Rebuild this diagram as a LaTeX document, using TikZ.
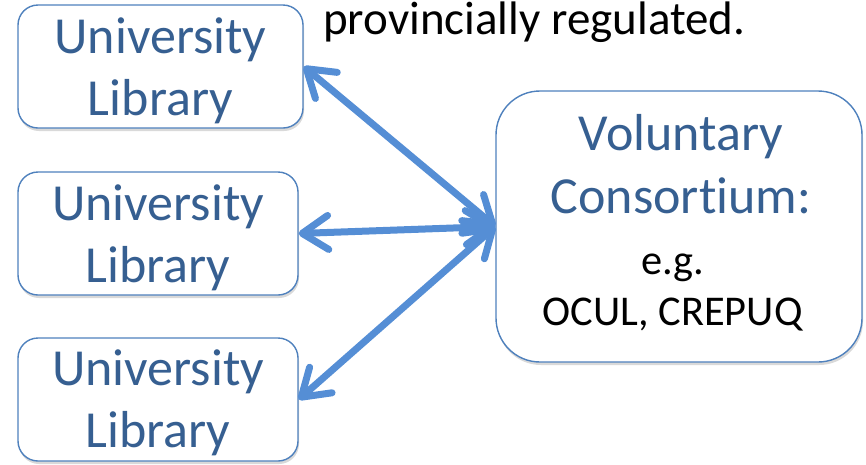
\documentclass[tikz,border=0pt]{standalone}
\usepackage{fontspec}
\setmainfont{Carlito}[Ligatures=NoCommon]
\usetikzlibrary{arrows.meta,shadows}
\definecolor{boxline}{RGB}{79,129,189}
\definecolor{boxtext}{RGB}{54,95,145}
\definecolor{linkblue}{RGB}{85,142,213}
\tikzset{
  every picture/.style={x=1pt,y=-1pt},
  libbox/.style={draw=boxline, line width=1.4pt, fill=white, rounded corners=20pt,
    minimum width=#1, minimum height=123pt, inner sep=0pt,
    drop shadow={shadow xshift=1pt, shadow yshift=-3pt, opacity=0.25, fill=black!60}},
  consbox/.style={draw=boxline, line width=1.4pt, fill=white, rounded corners=44pt,
    minimum width=366pt, minimum height=271pt, inner sep=0pt,
    drop shadow={shadow xshift=1pt, shadow yshift=-3pt, opacity=0.25, fill=black!60}},
  bigtext/.style={text=boxtext, font=\fontsize{52pt}{62pt}\selectfont, inner sep=0pt, anchor=base},
  smalltext/.style={text=black, font=\fontsize{42.4pt}{51pt}\selectfont, inner sep=0pt, anchor=base},
  titletext/.style={text=black, font=\fontsize{47pt}{56pt}\selectfont, inner sep=0pt, anchor=base west},
  link/.style={draw=linkblue, line width=7pt, line cap=round,
    {Straight Barb[length=26pt, width=34pt, round]}-{Straight Barb[length=26pt, width=34pt, round]}},
}
\begin{document}
\begin{tikzpicture}
\useasboundingbox (0,0) rectangle (866,464);

% three member libraries
\node[libbox=285pt] (lib1) at (160.5,66.5) {};
\node[libbox=280pt] (lib2) at (158,233.5) {};
\node[libbox=280pt] (lib3) at (158,399.5) {};

% the consortium
\node[consbox] (cons) at (679,226.5) {};

% library labels
\node[bigtext] (lib1a) at (160.5,53) {University};
\node[bigtext] (lib1b) at (160.5,115) {Library};
\node[bigtext] (lib2a) at (158,220) {University};
\node[bigtext] (lib2b) at (158,282) {Library};
\node[bigtext] (lib3a) at (158,385) {University};
\node[bigtext] (lib3b) at (158,447) {Library};

% consortium labels
\node[bigtext] (consa) at (681,150) {Voluntary};
\node[bigtext] (consb) at (681,213) {Consortium:};
\node[smalltext] (consc) at (672.5,274) {e.g.};
\node[smalltext] (consd) at (672.5,325) {OCUL, CREPUQ};

% heading fragment
\node[titletext] (head) at (323,34) {provincially regulated.};

% two-way links
\draw[link] (lib1.east) -- (cons.west);
\draw[link] (lib2.east) -- (cons.west);
\draw[link] (lib3.east) -- (cons.west);
\end{tikzpicture}
\end{document}
